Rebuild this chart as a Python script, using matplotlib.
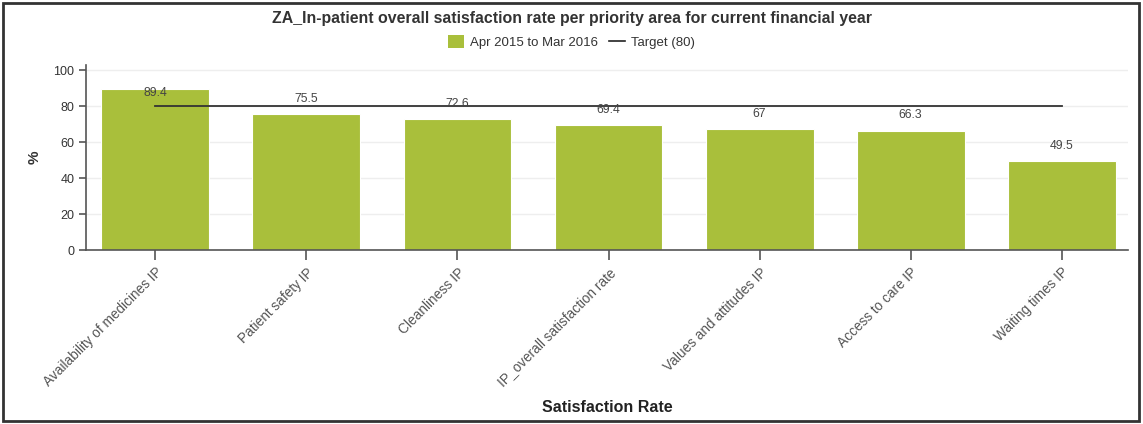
import matplotlib.pyplot as plt
from matplotlib.lines import Line2D
from matplotlib.patches import Patch, Rectangle

plt.rcParams['font.family'] = ['Liberation Sans', 'DejaVu Sans']

# data
categories = ["Availability of medicines IP", "Patient safety IP", "Cleanliness IP",
              "IP_overall satisfaction rate", "Values and attitudes IP",
              "Access to care IP", "Waiting times IP"]
values = [89.4, 75.5, 72.6, 69.4, 67, 66.3, 49.5]
value_labels = ["89.4", "75.5", "72.6", "69.4", "67", "66.3", "49.5"]
target = 80
y_ticks = [0, 20, 40, 60, 80, 100]

bar_color = '#a9bf3b'
text_color = '#444444'

fig = plt.figure(figsize=(11.43, 4.24), dpi=100)
ax = fig.add_axes([86 / 1143, 1 - 250 / 424, (1128 - 86) / 1143, (250 - 65) / 424])

x = list(range(len(categories)))
ax.bar(x, values, width=0.715, color=bar_color, edgecolor='white', linewidth=0.8, zorder=2)
ax.plot([x[0], x[-1]], [target, target], color='#333333', linewidth=1.3, zorder=3)

# value labels above bars (kept inside the plot near the top)
for xi, v, lab in zip(x, values, value_labels):
    ax.annotate(lab, (xi, min(v, 78.5)), xytext=(0, 11), textcoords='offset points',
                ha='center', va='center', fontsize=8.8, color=text_color, zorder=4)

ax.set_xlim(-0.46, 6.44)
ax.set_ylim(0, 102.8)
ax.set_yticks(y_ticks)
ax.set_xticks(x)
ax.set_xticklabels(categories, rotation=45, ha='right', rotation_mode='anchor',
                   fontsize=9.8, color='#555555')
ax.tick_params(axis='y', labelsize=9, colors='#555555', length=5, width=1.2, labelcolor='#333333')
ax.tick_params(axis='x', length=7, width=1.2, colors='#555555', labelcolor='#555555', pad=4)
ax.grid(axis='y', color='#eeeeee', linewidth=1, zorder=0)
ax.set_axisbelow(True)
for s in ['top', 'right']:
    ax.spines[s].set_visible(False)
for s in ['left', 'bottom']:
    ax.spines[s].set_color('#555555')
    ax.spines[s].set_linewidth(1.2)

ax.set_ylabel('%', fontsize=11, fontweight='bold', color='#333333')
ax.yaxis.set_label_coords((35 - 86) / 1042, 0.5)
ax.yaxis.label.set_va('center')
ax.set_xlabel('Satisfaction Rate', fontsize=11.5, fontweight='bold', color='#222222')
ax.xaxis.set_label_coords(0.5, (250 - 407) / 185)
ax.xaxis.label.set_va('center')

fig.text(0.5, 1 - 18 / 424, 'ZA_In-patient overall satisfaction rate per priority area for current financial year',
         ha='center', va='center', fontsize=11.4, fontweight='bold', color='#333333')

handles = [Patch(facecolor=bar_color, edgecolor='none'),
           Line2D([0], [0], color='#222222', linewidth=1.2)]
fig.legend(handles, ['Apr 2015 to Mar 2016', 'Target (80)'], loc='center',
           bbox_to_anchor=(0.5, 1 - 42 / 424), ncol=2, frameon=False, fontsize=9.5,
           handlelength=1.2, handleheight=1.1, handletextpad=0.5, columnspacing=0.8,
           labelcolor='#333333')

# outer frame
fig.patches.append(Rectangle((3 / 1143, 3 / 424), 1136 / 1143, 418 / 424, transform=fig.transFigure,
                             fill=False, edgecolor='#333333', linewidth=2))

fig.savefig('out.png', dpi=100)
